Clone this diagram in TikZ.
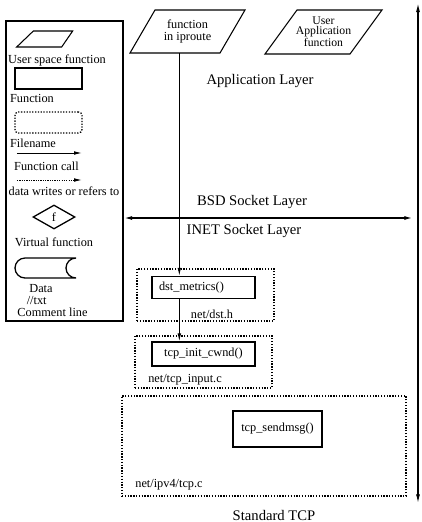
\documentclass[tikz,border=0pt]{standalone}
\usepackage{fontspec}
\setmainfont{Liberation Serif}
\usetikzlibrary{arrows.meta, shapes.geometric, positioning}

\begin{document}
\begin{tikzpicture}[
    font=\fontsize{10.5}{11}\selectfont,
    fnbox/.style={rectangle, draw, line width=1.1pt, minimum width=3.09cm, minimum height=0.66cm},
    filebox/.style={rectangle, draw, line width=1.1pt, dash pattern=on 1.1pt off 1.3pt},
    userfn/.style={draw, line width=0.9pt},
    layer/.style={font=\fontsize{12.5}{15}\selectfont},
    lbl/.style={inner sep=0pt},
    call/.style={-{Latex[length=2.4mm, width=1.1mm]}, line width=0.8pt},
    calltwo/.style={{Latex[length=2.6mm, width=1.2mm]}-{Latex[length=2.6mm, width=1.2mm]}, line width=1.3pt}
]
    \useasboundingbox (0,0) rectangle (12.63,-15.66);

    % legend
    \node[draw, line width=0.9pt, minimum width=3.51cm, minimum height=9cm] (legend) at (1.935,-5.13) {};
    \draw[userfn] (0.50,-1.41) -- (1.85,-1.41) -- (2.18,-0.93) -- (1.00,-0.93) -- cycle;
    \node[lbl] (keyusertxt) at (1.71,-1.80) {User space function};
    \node[fnbox, minimum width=2.01cm, minimum height=0.63cm] (keyfn) at (1.455,-2.355) {};
    \node[lbl] (keyfntxt) at (0.96,-2.94) {Function};
    \node[filebox, rounded corners=3pt, minimum width=2.01cm, minimum height=0.63cm] (keyfile) at (1.455,-3.675) {};
    \node[lbl] (keyfiletxt) at (0.99,-4.29) {Filename};
    \coordinate (keycallA) at (0.51,-4.59);
    \coordinate (keycallB) at (2.46,-4.59);
    \draw[call] (keycallA) -- (keycallB);
    \node[lbl] (keycalltxt) at (1.395,-4.98) {Function call};
    \coordinate (keydataA) at (0.51,-5.40);
    \coordinate (keydataB) at (2.46,-5.40);
    \draw[call, dash pattern=on 1pt off 1pt] (keydataA) -- (keydataB);
    \node[lbl] (keydatatxt) at (1.92,-5.73) {data writes or refers to};
    \node[diamond, draw, line width=1.1pt, minimum width=1.26cm, minimum height=0.72cm, inner sep=0pt] (keyvirt) at (1.62,-6.51) {f};
    \node[lbl] (keyvirttxt) at (1.62,-7.26) {Virtual function};
    \draw[line width=1.1pt] (2.28,-7.74) -- (0.75,-7.74) arc[start angle=90, end angle=270, radius=0.3]
        -- (2.28,-8.34) arc[start angle=-90, end angle=-270, x radius=0.3, y radius=0.3];
    \node[lbl] (keystoretxt) at (1.23,-8.67) {Data};
    \node[lbl] (keytxt) at (1.10,-9.01) {//txt};
    \node[lbl] (keycommenttxt) at (1.575,-9.38) {Comment line};

    % user space
    \draw[userfn] (3.90,-1.59) -- (6.60,-1.59) -- (7.35,-0.30) -- (4.65,-0.30) -- cycle;
    \node[lbl, align=center] (iproute) at (5.625,-0.945) {function\\in iproute};
    \draw[userfn] (7.95,-1.62) -- (10.50,-1.62) -- (11.46,-0.30) -- (8.91,-0.30) -- cycle;
    \node[lbl, align=center, font=\fontsize{10}{8.5}\selectfont] (userapp) at (9.705,-0.96) {User\\Application\\function};
    \coordinate (iprouteB) at (5.38,-1.59);

    % layers
    \node[layer] (applayer) at (7.8,-2.43) {Application Layer};
    \node[layer] (bsd) at (7.56,-6.06) {BSD Socket Layer};
    \node[layer] (inet) at (7.32,-6.93) {INET Socket Layer};
    \node[layer] (stdtcp) at (8.22,-15.45) {Standard TCP};
    \coordinate (bsdR) at (12.39,-6.54);
    \draw[calltwo] (legend.east |- bsdR) -- (bsdR);
    \coordinate (stackT) at (12.54,-0.10);
    \coordinate (stackB) at (12.54,-15.09);
    \draw[calltwo, line width=1pt] (stackT) -- (stackB);

    % kernel files
    \node[filebox, minimum width=4.11cm, minimum height=1.56cm] (dsth) at (6.165,-8.85) {};
    \node[fnbox, text width=2.67cm, inner xsep=0.21cm, align=left] (dstfn) at (6.105,-8.625) {dst\_metrics()};
    \node[lbl] (dsthtxt) at (6.36,-9.42) {net/dst.h};

    \node[filebox, minimum width=4.11cm, minimum height=1.56cm] (tcpinput) at (6.105,-10.86) {};
    \node[fnbox, minimum height=0.72cm] (cwnd) at (6.105,-10.62) {tcp\_init\_cwnd()};
    \node[lbl] (tcpinputtxt) at (5.55,-11.4) {net/tcp\_input.c};

    \node[filebox, minimum width=8.52cm, minimum height=3.0cm] (tcpc) at (7.92,-13.38) {};
    \node[fnbox, minimum width=2.67cm, minimum height=1.08cm] (sendmsg) at (8.325,-12.87) {tcp\_sendmsg()};
    \node[lbl] (tcpctxt) at (5.07,-14.55) {net/ipv4/tcp.c};

    % calls
    \draw[call] (iprouteB) -- (dstfn.north -| iprouteB);
    \draw[call] (dstfn.south -| iprouteB) -- (cwnd.north -| iprouteB);
\end{tikzpicture}
\end{document}
